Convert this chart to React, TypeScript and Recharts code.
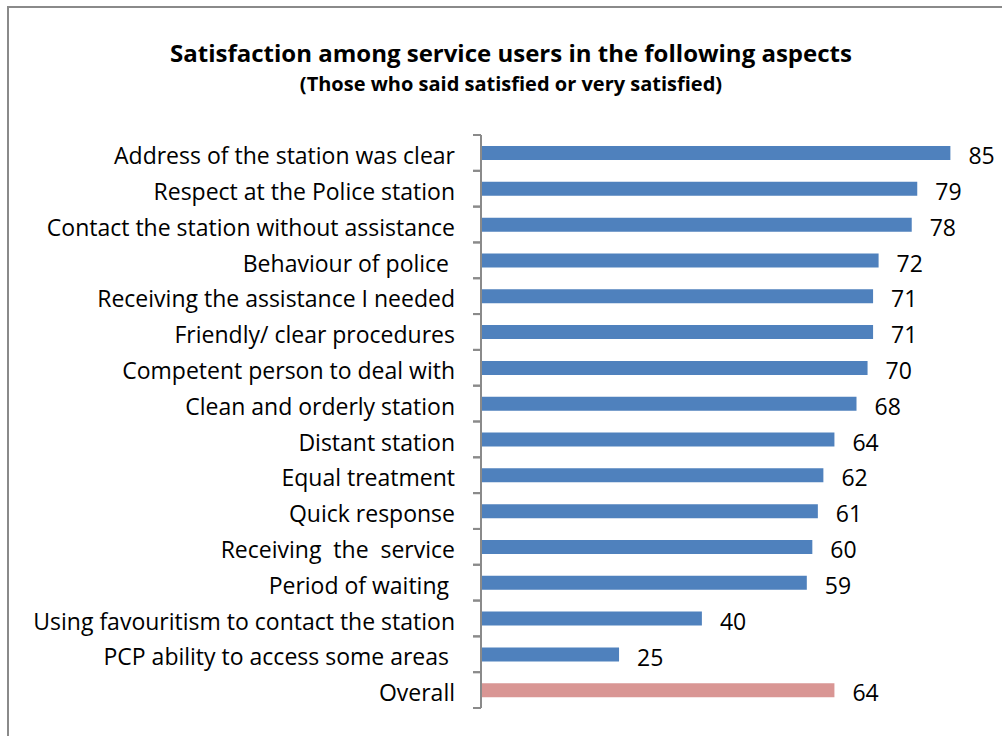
import React from 'react';
import { BarChart, Bar, XAxis, YAxis, Cell, LabelList } from 'recharts';

const categories = [
  'Address of the station was clear',
  'Respect at the Police station',
  'Contact the station without assistance',
  'Behaviour of police ',
  'Receiving the assistance I needed',
  'Friendly/ clear procedures',
  'Competent person to deal with',
  'Clean and orderly station',
  'Distant station',
  'Equal treatment',
  'Quick response',
  'Receiving  the  service',
  'Period of waiting ',
  'Using favouritism to contact the station',
  'PCP ability to access some areas ',
  'Overall',
];

const satisfied = [85, 79, 78, 72, 71, 71, 70, 68, 64, 62, 61, 60, 59, 40, 25, 64];

const data = categories.map((name, i) => ({ name, value: satisfied[i] }));

const FONT = '"Open Sans", sans-serif';
const GREY = '#8a8a8a';
const AXIS_X = 481;

// category label plus the small tick marks Excel puts on the band edges
const CategoryTick = (props: any) => {
  const { x, y, payload } = props;
  const half = payload && payload.offset ? payload.offset : 0;
  return (
    <g>
      <line x1={AXIS_X - 8} x2={AXIS_X} y1={y - half} y2={y - half} stroke={GREY} strokeWidth={2} />
      <line x1={AXIS_X - 8} x2={AXIS_X} y1={y + half} y2={y + half} stroke={GREY} strokeWidth={2} />
      <text x={x} y={y} dy="0.355em" dx={0} textAnchor="end" fontSize={23} fill="#000" fontFamily={FONT} style={{ whiteSpace: 'pre' }} transform={`translate(0,3)`}>
        {payload.value}
      </text>
    </g>
  );
};

export default function App() {
  return (
    <div style={{ position: 'absolute', left: 0, top: 0, width: 1002, height: 736, background: '#fff', overflow: 'hidden', fontFamily: FONT }}>
      <div style={{ position: 'absolute', left: 7, top: 6, width: 1100, height: 800, border: `2px solid ${GREY}`, boxSizing: 'border-box' }} />
      <div style={{ position: 'absolute', left: 0, top: 38, width: 1022, textAlign: 'center', fontWeight: 700, fontSize: 24, color: '#000', lineHeight: '30px' }}>
        Satisfaction among service users in the following aspects
      </div>
      <div style={{ position: 'absolute', left: 0, top: 72, width: 1022, textAlign: 'center', fontWeight: 700, fontSize: 20, color: '#000', lineHeight: '24px' }}>
        (Those who said satisfied or very satisfied)
      </div>
      <div style={{ position: 'absolute', left: 0, top: 0 }}>
        <BarChart
          width={1002}
          height={736}
          data={data}
          layout="vertical"
          margin={{ top: 135, right: 24, bottom: 28, left: 0 }}
        >
          <XAxis type="number" domain={[0, 90]} hide />
          <YAxis
            type="category"
            dataKey="name"
            width={AXIS_X}
            interval={0}
            tickLine={false}
            tickSize={0}
            tickMargin={26}
            axisLine={{ stroke: GREY, strokeWidth: 2 }}
            tick={<CategoryTick />}
          />
          <Bar dataKey="value" barSize={14} isAnimationActive={false}>
            {data.map((d, i) => (
              <Cell key={d.name} fill={i === data.length - 1 ? '#d99694' : '#4f81bd'} />
            ))}
            <LabelList dataKey="value" position="right" offset={18} dy={3} style={{ fontSize: 23, fill: '#000', fontFamily: FONT }} />
          </Bar>
        </BarChart>
      </div>
    </div>
  );
}
